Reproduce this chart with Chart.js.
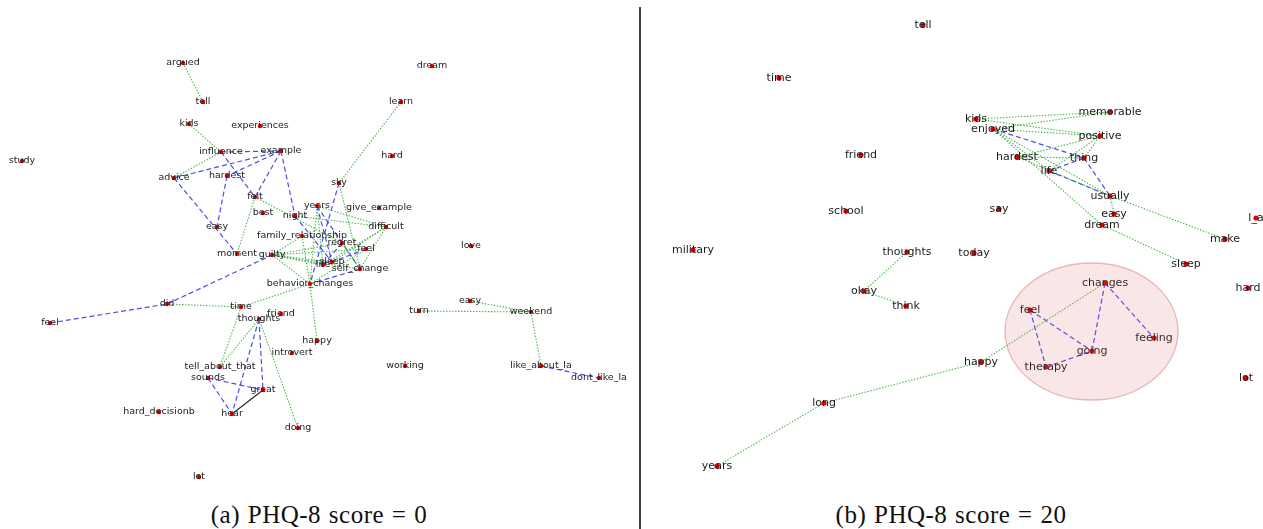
<!DOCTYPE html>
<html>
<head>
<meta charset="utf-8">
<script src="https://cdn.jsdelivr.net/npm/chart.js@4.4.1/dist/chart.umd.min.js"></script>
<style>
  body { margin: 0; background: #fff; width: 1263px; height: 529px; overflow: hidden; position: relative; }
  #graphA { position: absolute; left: 0; top: 0; }
  #graphB { position: absolute; left: 642px; top: 0; }
  .divider { position: absolute; left: 639px; top: 7px; width: 2px; height: 522px; background: #444; }
  .caption { position: absolute; top: 500px; width: 400px; text-align: center; line-height: 30px;
             font-family: 'Liberation Serif', serif; font-size: 25px; letter-spacing: 0.5px;
             word-spacing: 1px; color: #111; }
</style>
</head>
<body>
<canvas id="graphA" width="638" height="495"></canvas>
<div class="divider"></div>
<canvas id="graphB" width="621" height="495"></canvas>
<div class="caption" style="left:119px">(a) PHQ-8 score = 0</div>
<div class="caption" style="left:751px">(b) PHQ-8 score = 20</div>

<script>
// ---- panel (a): PHQ-8 score = 0 ----
// node ids ("#2" marks a repeated word), layout positions
const nodesA = ['argued', 'tell', 'kids', 'experiences', 'study', 'influence', 'example', 'advice',
  'hardest', 'felt', 'best', 'night', 'dream', 'learn', 'hard', 'sky', 'years', 'give_example',
  'difficult', 'easy', 'family_relationship', 'regret', 'feel', 'moment', 'guilty', 'sleep', 'life',
  'self_change', 'behavior_changes', 'did', 'time', 'feel#2', 'thoughts', 'friend', 'happy',
  'introvert', 'tell_about_that', 'sounds', 'great', 'hard_decisionb', 'hear', 'doing', 'lot',
  'love', 'easy#2', 'turn', 'weekend', 'working', 'like_about_la', 'dont_like_la'];
const xA = [183, 203, 189, 260, 22, 221, 281, 174,
  227, 255, 263, 295, 432, 401, 392, 339, 317, 379,
  386, 217, 302, 342, 366, 237, 272, 332, 323,
  360, 310, 167, 241, 50, 259, 281, 317,
  292, 220, 208, 263, 159, 232, 298, 199,
  471, 470, 419, 531, 405, 541, 599];
const yA = [63, 102, 124, 126, 161, 152, 151, 178,
  176, 197, 213, 216, 66, 102, 156, 183, 206, 208,
  227, 227, 236, 243, 249, 254, 255, 262, 265,
  269, 284, 304, 307, 323, 319, 314, 341,
  353, 367, 378, 390, 412, 414, 428, 477,
  246, 301, 311, 312, 366, 366, 378];

const greenA = [['argued', 'tell'], ['kids', 'influence'], ['influence', 'advice'], ['felt', 'moment'],
  ['felt', 'regret'], ['learn', 'sky'], ['sky', 'self_change'], ['years', 'difficult'],
  ['years', 'behavior_changes'], ['years', 'life'], ['night', 'difficult'], ['difficult', 'life'],
  ['difficult', 'self_change'], ['difficult', 'sleep'], ['guilty', 'regret'], ['guilty', 'feel'],
  ['guilty', 'sleep'], ['guilty', 'life'], ['guilty', 'self_change'], ['guilty', 'behavior_changes'],
  ['guilty', 'family_relationship'], ['feel', 'behavior_changes'], ['regret', 'self_change'],
  ['family_relationship', 'behavior_changes'], ['behavior_changes', 'time'], ['behavior_changes', 'happy'],
  ['did', 'time'], ['time', 'tell_about_that'], ['thoughts', 'tell_about_that'], ['thoughts', 'doing'],
  ['turn', 'weekend'], ['easy#2', 'weekend'], ['weekend', 'like_about_la']];
const blueA = [['influence', 'example'], ['influence', 'felt'], ['example', 'advice'], ['example', 'hardest'],
  ['example', 'felt'], ['example', 'night'], ['hardest', 'easy'], ['advice', 'moment'], ['night', 'sleep'],
  ['sky', 'behavior_changes'], ['years', 'self_change'], ['years', 'sleep'], ['regret', 'life'],
  ['feel', 'sleep'], ['self_change', 'behavior_changes'], ['did', 'guilty'], ['feel#2', 'did'],
  ['thoughts', 'hear'], ['thoughts', 'great'], ['sounds', 'great'], ['sounds', 'hear'],
  ['like_about_la', 'dont_like_la']];
const blackA = [['hear', 'great']];

// ---- panel (b): PHQ-8 score = 20 ----
const nodesB = ['tell', 'time', 'friend', 'school', 'military', 'thoughts', 'okay', 'think', 'long',
  'years', 'kids', 'enjoyed', 'memorable', 'positive', 'hardest', 'thing', 'life', 'usually', 'say',
  'easy', 'dream', 'today', 'make', 'sleep', 'l_a', 'changes', 'feel', 'feeling', 'going', 'therapy',
  'happy', 'hard', 'lot'];
const xB = [923, 779, 861, 846, 693, 907, 864, 906, 824,
  717, 976, 993, 1110, 1100, 1017, 1084, 1049, 1110, 999,
  1114, 1102, 974, 1225, 1186, 1256, 1105, 1030, 1154, 1092, 1046,
  981, 1248, 1246];
const yB = [25, 78, 155, 211, 250, 252, 291, 306, 403,
  466, 119, 129, 112, 136, 157, 158, 171, 196, 209,
  214, 225, 253, 239, 264, 218, 283, 310, 338, 351, 367,
  362, 288, 378];

const greenB = [['thoughts', 'okay'], ['okay', 'think'], ['years', 'long'], ['long', 'happy'],
  ['happy', 'changes'], ['kids', 'memorable'], ['enjoyed', 'memorable'], ['kids', 'positive'],
  ['enjoyed', 'positive'], ['enjoyed', 'usually'], ['enjoyed', 'dream'], ['enjoyed', 'life'],
  ['hardest', 'thing'], ['hardest', 'usually'], ['hardest', 'positive'], ['life', 'positive'],
  ['thing', 'positive'], ['usually', 'make'], ['usually', 'easy'], ['dream', 'sleep']];
const blueB = [['enjoyed', 'thing'], ['life', 'thing'], ['life', 'usually'], ['thing', 'usually'],
  ['changes', 'going'], ['changes', 'feeling'], ['feel', 'going'], ['feel', 'therapy'],
  ['therapy', 'going']];
const blackB = [];

// highlighted cluster in (b): centre and radii in the same units as the nodes
const clusterB = { cx: 1091.5, cy: 331.5, rx: 86.5, ry: 68.5 };

const edgeStyles = {
  green: { borderColor: 'rgba(50,170,50,0.85)', borderWidth: 1.1, borderDash: [1.5, 1.5] },
  blue: { borderColor: 'rgba(30,30,245,0.8)', borderWidth: 1.2, borderDash: [5, 3] },
  black: { borderColor: '#222', borderWidth: 1.1, borderDash: [] }
};

function edgeDatasets(pairs, ids, xs, ys, style) {
  return pairs.map(([a, b]) => {
    const i = ids.indexOf(a), j = ids.indexOf(b);
    return Object.assign({
      data: [{ x: xs[i], y: ys[i] }, { x: xs[j], y: ys[j] }],
      showLine: true, pointRadius: 0, clip: false, order: 2
    }, edgeStyles[style]);
  });
}

// draws the words on top of the nodes, and the cluster ellipse if given
const nodeLabels = {
  id: 'nodeLabels',
  afterDatasetsDraw(chart, args, opts) {
    const { ctx, scales: { x, y } } = chart;
    ctx.save();
    ctx.font = opts.font;
    ctx.fillStyle = '#1c1c1c';
    ctx.textAlign = 'center';
    ctx.textBaseline = 'middle';
    opts.ids.forEach((id, i) => {
      ctx.fillText(id.split('#')[0], x.getPixelForValue(opts.xs[i]), y.getPixelForValue(opts.ys[i]));
    });
    if (opts.cluster) {
      const c = opts.cluster;
      const px = x.getPixelForValue(c.cx), py = y.getPixelForValue(c.cy);
      const rx = Math.abs(x.getPixelForValue(c.cx + c.rx) - px);
      const ry = Math.abs(y.getPixelForValue(c.cy + c.ry) - py);
      ctx.beginPath();
      ctx.ellipse(px, py, rx, ry, 0, 0, Math.PI * 2);
      ctx.fillStyle = 'rgba(215,95,95,0.15)';
      ctx.fill();
      ctx.strokeStyle = 'rgba(205,110,110,0.45)';
      ctx.lineWidth = 1.3;
      ctx.stroke();
    }
    ctx.restore();
  }
};

function drawGraph(canvasId, ids, xs, ys, green, blue, black, xMin, xMax, dotSize, font, cluster) {
  const nodes = {
    data: ids.map((id, i) => ({ x: xs[i], y: ys[i] })),
    pointRadius: dotSize, pointBackgroundColor: '#e00000', pointBorderWidth: 0,
    showLine: false, clip: false, order: 1
  };
  new Chart(document.getElementById(canvasId), {
    type: 'scatter',
    data: {
      datasets: [nodes,
        ...edgeDatasets(green, ids, xs, ys, 'green'),
        ...edgeDatasets(blue, ids, xs, ys, 'blue'),
        ...edgeDatasets(black, ids, xs, ys, 'black')]
    },
    options: {
      responsive: false,
      animation: false,
      events: [],
      layout: { padding: 0, autoPadding: false },
      plugins: {
        legend: { display: false },
        tooltip: { enabled: false },
        nodeLabels: { ids, xs, ys, font, cluster }
      },
      scales: {
        x: { type: 'linear', min: xMin, max: xMax, display: false },
        y: { type: 'linear', min: 0, max: 495, reverse: true, display: false }
      }
    },
    plugins: [nodeLabels]
  });
}

drawGraph('graphA', nodesA, xA, yA, greenA, blueA, blackA, 0, 638, 2.2, '9.5px "DejaVu Sans"', null);
drawGraph('graphB', nodesB, xB, yB, greenB, blueB, blackB, 642, 1263, 2.6, '11px "DejaVu Sans"', clusterB);
</script>
</body>
</html>
